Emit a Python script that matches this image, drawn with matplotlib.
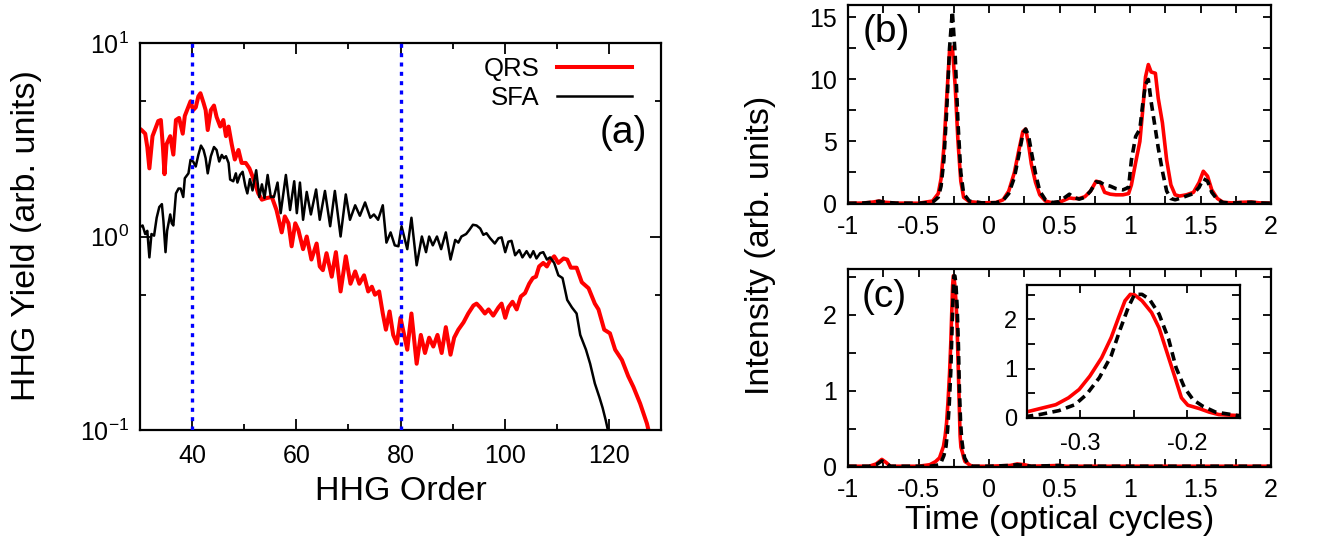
import matplotlib
matplotlib.use("Agg")
import matplotlib.pyplot as plt
from matplotlib.ticker import MultipleLocator, FixedLocator, NullFormatter, FuncFormatter

plt.rcParams['font.family'] = ['Liberation Sans', 'DejaVu Sans']
plt.rcParams['mathtext.fontset'] = 'custom'
plt.rcParams['mathtext.rm'] = 'Liberation Sans'
plt.rcParams['mathtext.default'] = 'regular'
plt.rcParams['axes.unicode_minus'] = False

# ---- panel (a): HHG spectra (order, yield) ----
qrs_order = [30.0, 30.3, 31.0, 31.4, 31.8, 32.4, 33.1, 33.5, 34.0, 34.4, 34.7, 35.1, 35.8, 36.4,
             36.9, 37.5, 38.2, 38.6, 39.3, 39.7, 40.2, 40.7, 41.2, 41.6, 42.2, 42.6, 43.0, 43.6,
             44.2, 44.7, 45.4, 46.0, 46.5, 47.0, 47.6, 48.2, 48.9, 49.5, 50.3, 51.0, 51.8, 52.7,
             53.4, 54.3, 55.3, 56.2, 57.2, 57.8, 58.5, 59.1, 59.8, 60.4, 61.3, 62.0, 62.9, 63.9,
             64.5, 65.1, 65.8, 66.8, 67.6, 68.5, 69.5, 70.4, 71.3, 72.1, 73.0, 73.8, 74.5, 75.1,
             75.9, 76.6, 77.2, 77.9, 78.6, 79.3, 80.0, 80.7, 81.3, 82.1, 83.1, 83.9, 84.7, 85.5,
             86.3, 87.1, 87.9, 88.7, 89.6, 90.3, 91.1, 92.1, 93.0, 94.0, 94.6, 95.3, 96.2, 96.9,
             97.8, 98.8, 99.4, 100.1, 100.7, 101.5, 102.3, 103.1, 103.9, 104.7, 105.4, 106.0,
             106.6, 107.4, 108.1, 108.7, 109.5, 110.3, 111.3, 112.0, 112.7, 113.8, 114.8, 116.1,
             117.3, 118.0, 119.1, 120.2, 121.2, 122.5, 123.7, 124.7, 126.0, 127.3, 128.0]
qrs_yield = [3.6, 3.55, 3.4, 2.9, 2.25, 3.3, 3.7, 3.95, 4.0, 2.9, 2.1, 3.0, 3.3, 2.65,
             4.0, 4.1, 3.4, 4.2, 4.7, 5.0, 4.5, 4.65, 5.3, 5.5, 4.9, 4.5, 3.55, 4.5,
             4.75, 4.15, 3.7, 4.0, 3.3, 3.7, 3.0, 2.5, 2.8, 2.4, 2.4, 2.25, 1.98, 1.67,
             1.55, 1.58, 1.6, 1.37, 1.05, 1.27, 1.17, 0.89, 1.17, 1.08, 0.86, 1.0, 0.76, 0.92,
             0.70, 0.67, 0.82, 0.62, 0.83, 0.52, 0.79, 0.57, 0.66, 0.57, 0.63, 0.52, 0.55, 0.50,
             0.52, 0.40, 0.33, 0.41, 0.31, 0.28, 0.38, 0.31, 0.26, 0.40, 0.22, 0.31, 0.25, 0.30,
             0.27, 0.31, 0.25, 0.34, 0.245, 0.30, 0.33, 0.36, 0.40, 0.44, 0.45, 0.43, 0.40, 0.42,
             0.39, 0.43, 0.45, 0.38, 0.43, 0.46, 0.42, 0.49, 0.51, 0.57, 0.61, 0.62,
             0.70, 0.73, 0.70, 0.75, 0.79, 0.73, 0.77, 0.76, 0.69, 0.69, 0.58, 0.54,
             0.45, 0.42, 0.33, 0.316, 0.26, 0.23, 0.19, 0.167, 0.137, 0.108, 0.09]

sfa_order = [30.0, 30.5, 31.0, 31.4, 31.8, 32.2, 32.7, 33.2, 33.7, 34.2, 34.5, 34.9, 35.2, 35.8,
             36.1, 36.4, 36.9, 37.4, 37.8, 38.3, 38.6, 39.3, 39.7, 40.2, 40.7, 41.2, 41.7, 42.2,
             42.6, 43.0, 43.6, 44.2, 44.7, 45.2, 45.7, 46.1, 46.5, 47.0, 47.3, 47.9, 48.4, 48.7,
             49.2, 49.7, 50.2, 50.6, 51.1, 51.6, 52.3, 52.9, 53.4, 53.9, 54.5, 55.1, 55.7, 56.4,
             57.0, 58.0, 58.8, 59.6, 60.1, 60.7, 61.3, 62.0, 62.8, 63.8, 64.5, 65.5, 66.5, 67.4,
             68.5, 69.5, 70.3, 71.3, 72.2, 73.2, 74.2, 74.9, 75.7, 76.6, 77.3, 78.1, 78.9, 79.6,
             80.2, 80.7, 81.3, 82.1, 83.1, 84.1, 84.9, 85.5, 86.2, 87.0, 87.8, 88.7, 89.6, 90.5,
             91.1, 91.7, 92.6, 93.2, 93.9, 94.6, 95.3, 95.9, 96.5, 97.2, 98.1, 98.8, 99.4, 100.1,
             100.7, 101.3, 102.0, 102.8, 103.4, 104.2, 104.9, 105.5, 106.1, 106.8, 107.4, 108.1,
             108.7, 109.5, 110.3, 111.1, 112.0, 112.9, 113.8, 114.5, 115.6, 116.4, 117.3, 118.2,
             118.8, 119.4, 119.8, 120.2]
sfa_yield = [1.12, 1.14, 1.03, 1.07, 0.78, 1.03, 1.01, 1.25, 1.42, 1.47, 1.2, 0.83, 1.07, 1.3,
             1.17, 1.14, 1.67, 1.77, 1.77, 1.6, 2.0, 2.12, 2.49, 2.44, 2.3, 2.64, 2.95, 2.8,
             2.54, 2.12, 2.6, 2.9, 2.8, 2.44, 2.64, 2.54, 2.6, 2.4, 1.97, 1.93, 2.12, 1.9,
             2.08, 2.16, 1.83, 1.67, 1.98, 1.73, 2.2, 1.6, 1.86, 1.58, 2.08, 1.6, 1.6, 1.9,
             1.32, 2.08, 1.37, 1.93, 1.32, 1.9, 1.22, 1.7, 1.3, 1.75, 1.22, 1.72, 1.13, 1.72,
             1.0, 1.65, 1.22, 1.45, 1.28, 1.5, 1.25, 1.3, 1.22, 1.45, 0.93, 1.05, 0.90, 0.89,
             1.13, 1.0, 0.86, 1.25, 0.71, 1.0, 0.83, 1.0, 0.90, 1.0, 0.86, 1.05, 0.76, 0.96,
             0.93, 1.0, 1.03, 1.08, 1.15, 1.14, 1.10, 1.02, 1.04, 0.98, 0.92, 0.98, 0.99, 0.83,
             0.94, 0.95, 0.80, 0.85, 0.78, 0.84, 0.78, 0.84, 0.77, 0.82, 0.83, 0.76,
             0.78, 0.73, 0.63, 0.61, 0.47, 0.43, 0.40, 0.31, 0.26, 0.22, 0.174, 0.147,
             0.13, 0.112, 0.10, 0.09]

marker_orders = [40, 80]

# ---- panel (b): time profile over two optical cycles ----
t_b = [-1.00, -0.90, -0.82, -0.78, -0.74, -0.66, -0.50, -0.40, -0.36, -0.34, -0.32, -0.30,
       -0.28, -0.26, -0.24, -0.22, -0.20, -0.18, -0.14, -0.05, 0.05, 0.10, 0.14, 0.18, 0.21,
       0.24, 0.26, 0.28, 0.30, 0.33, 0.36, 0.40, 0.45, 0.50, 0.54, 0.57, 0.60, 0.64, 0.68,
       0.72, 0.76, 0.79, 0.82, 0.86, 0.90, 0.95, 0.99, 1.01, 1.04, 1.07, 1.09, 1.11, 1.13,
       1.15, 1.18, 1.20, 1.23, 1.26, 1.29, 1.32, 1.35, 1.40, 1.45, 1.49, 1.52, 1.55, 1.58,
       1.62, 1.66, 1.72, 1.80, 1.86, 1.92, 2.00]
qrs_b = [0.02, 0.03, 0.12, 0.2, 0.1, 0.03, 0.02, 0.2, 0.8, 2.0, 4.5, 8.5,
         12.3, 12.6, 9.5, 5.0, 1.8, 0.5, 0.15, 0.05, 0.08, 0.3, 1.0, 2.5, 4.2,
         5.8, 6.0, 4.8, 3.2, 1.7, 0.7, 0.2, 0.05, 0.1, 0.3, 0.45, 0.4, 0.4, 0.55,
         1.0, 1.8, 1.7, 0.9, 0.75, 0.7, 0.7, 0.8, 1.5, 3.3, 5.0, 7.5, 10.2, 11.2,
         10.6, 10.5, 8.5, 6.5, 3.5, 1.5, 0.7, 0.6, 0.7, 0.9, 1.7, 2.6, 2.2, 1.1,
         0.4, 0.1, 0.05, 0.1, 0.12, 0.05, 0.03]
sfa_b = [0.02, 0.03, 0.1, 0.18, 0.1, 0.03, 0.02, 0.1, 0.5, 1.4, 3.5, 7.5,
         12.5, 15.5, 12.0, 6.5, 2.5, 0.8, 0.2, 0.05, 0.06, 0.25, 0.8, 2.1, 3.8,
         5.6, 6.0, 5.5, 4.2, 2.4, 1.0, 0.3, 0.08, 0.15, 0.5, 0.75, 0.5, 0.35, 0.5,
         1.0, 1.75, 1.7, 1.5, 1.4, 1.2, 1.1, 1.3, 3.5, 5.4, 6.0, 8.0, 9.6, 10.0,
         8.2, 6.0, 4.5, 2.6, 1.0, 0.4, 0.3, 0.4, 0.6, 0.8, 1.3, 2.0, 1.8, 0.9,
         0.3, 0.08, 0.03, 0.08, 0.1, 0.04, 0.02]

# ---- panel (c) and its inset: same data, isolated attosecond pulse ----
t_c_qrs = [-1.00, -0.85, -0.80, -0.76, -0.73, -0.70, -0.60, -0.50, -0.42, -0.38,
           -0.351, -0.338, -0.323, -0.311, -0.301, -0.291, -0.280, -0.271, -0.264, -0.258,
           -0.253, -0.249, -0.242, -0.233, -0.226, -0.219, -0.211, -0.205, -0.199, -0.188,
           -0.179, -0.170, -0.152, -0.14, -0.12, 0.00, 0.15, 0.20, 0.25, 0.30, 0.50, 0.55,
           0.80, 2.00]
qrs_c = [0.01, 0.01, 0.04, 0.10, 0.06, 0.01, 0.01, 0.01, 0.03, 0.07,
         0.12, 0.19, 0.27, 0.41, 0.58, 0.85, 1.22, 1.63, 2.04, 2.38,
         2.51, 2.50, 2.38, 2.14, 1.83, 1.36, 0.82, 0.41, 0.26, 0.19,
         0.12, 0.07, 0.05, 0.03, 0.01, 0.01, 0.02, 0.04, 0.03, 0.01, 0.02, 0.01,
         0.01, 0.01]
t_c_sfa = [-1.00, -0.85, -0.80, -0.76, -0.73, -0.70, -0.60, -0.50, -0.42, -0.38,
           -0.351, -0.338, -0.320, -0.305, -0.294, -0.282, -0.271, -0.263, -0.255, -0.249,
           -0.242, -0.235, -0.226, -0.217, -0.210, -0.202, -0.194, -0.185, -0.173, -0.152,
           -0.14, -0.12, 0.00, 0.15, 0.20, 0.25, 0.30, 0.50, 0.55, 0.80, 2.00]
sfa_c = [0.01, 0.01, 0.03, 0.08, 0.05, 0.01, 0.01, 0.01, 0.01, 0.02,
         0.03, 0.07, 0.15, 0.27, 0.48, 0.82, 1.26, 1.77, 2.24, 2.51,
         2.51, 2.41, 2.11, 1.60, 1.02, 0.61, 0.37, 0.24, 0.12, 0.05,
         0.03, 0.01, 0.01, 0.02, 0.03, 0.02, 0.01, 0.02, 0.01, 0.01, 0.01]

W, H = 1342, 550
TICK_FS = 18
LABEL_FS = 24.5
TAG_FS = 28
LEGEND_FS = 18.5
RED = '#ff0000'


def plain(v, pos):
    return '%g' % (round(v, 6) + 0.0)


def box(ax, lw=1.6):
    for s in ax.spines.values():
        s.set_linewidth(lw)
    ax.tick_params(which='both', direction='in', top=True, right=True, width=1.3)


def rect(x0, x1, y0, y1):
    return [x0 / W, 1 - y1 / H, (x1 - x0) / W, (y1 - y0) / H]


fig = plt.figure(figsize=(W / 100, H / 100), dpi=100)

# (a)
ax_a = fig.add_axes(rect(140, 661, 43, 430))
ax_a.plot(qrs_order, qrs_yield, color=RED, lw=2.9, label='QRS')
ax_a.plot(sfa_order, sfa_yield, color='black', lw=1.8, label='SFA')
for xo in marker_orders:
    ax_a.axvline(xo, color='#0000ff', lw=2.4, ls=(0, (1.2, 1.6)), zorder=5)
ax_a.set_yscale('log')
ax_a.set_xlim(30, 130)
ax_a.set_ylim(0.1, 10)
ax_a.set_yticks([0.1, 1, 10], labels=[r'$10^{-1}$', r'$10^{0}$', r'$10^{1}$'])
ax_a.yaxis.set_minor_locator(FixedLocator([0.5, 5]))
ax_a.yaxis.set_minor_formatter(NullFormatter())
ax_a.xaxis.set_major_locator(FixedLocator([40, 60, 80, 100, 120]))
ax_a.xaxis.set_minor_locator(MultipleLocator(10))
box(ax_a)
ax_a.tick_params(which='major', length=8, labelsize=TICK_FS)
ax_a.tick_params(axis='x', pad=10)
ax_a.tick_params(axis='y', pad=8)
ax_a.tick_params(which='minor', length=4)
ax_a.set_xlabel('HHG Order', fontsize=LABEL_FS, labelpad=6)
ax_a.legend(loc='upper right', bbox_to_anchor=(0.944, 0.965), markerfirst=False,
            frameon=False, fontsize=LEGEND_FS, handlelength=2.9, borderpad=0, borderaxespad=0,
            labelspacing=0.22, handletextpad=0.7)
ax_a.text(0.927, 0.767, '(a)', transform=ax_a.transAxes, fontsize=TAG_FS,
          ha='center', va='center')
fig.text(27 / W, 1 - 236 / H, 'HHG Yield (arb. units)', rotation=90, fontsize=LABEL_FS,
         ha='center', va='center')

# (b)
ax_b = fig.add_axes(rect(848, 1271, 5, 203.5))
ax_b.plot(t_b, qrs_b, color=RED, lw=2.6)
ax_b.plot(t_b, sfa_b, color='black', lw=2.6, ls=(0, (2.4, 1.5)))
ax_b.set_xlim(-1, 2)
ax_b.set_ylim(0, 16)
ax_b.xaxis.set_major_locator(MultipleLocator(0.5))
ax_b.xaxis.set_minor_locator(MultipleLocator(0.25))
ax_b.yaxis.set_major_locator(MultipleLocator(5))
ax_b.yaxis.set_minor_locator(MultipleLocator(2.5))
ax_b.xaxis.set_major_formatter(FuncFormatter(plain))
ax_b.yaxis.set_major_formatter(FuncFormatter(plain))
box(ax_b)
ax_b.tick_params(which='both', length=6, labelsize=TICK_FS, pad=8)
ax_b.text(0.09, 0.864, '(b)', transform=ax_b.transAxes, fontsize=TAG_FS,
          ha='center', va='center')

# (c)
ax_c = fig.add_axes(rect(848, 1271, 269, 467))
ax_c.plot(t_c_qrs, qrs_c, color=RED, lw=2.6)
ax_c.plot(t_c_sfa, sfa_c, color='black', lw=2.6, ls=(0, (2.4, 1.5)))
ax_c.set_xlim(-1, 2)
ax_c.set_ylim(0, 2.6)
ax_c.xaxis.set_major_locator(MultipleLocator(0.5))
ax_c.xaxis.set_minor_locator(MultipleLocator(0.25))
ax_c.yaxis.set_major_locator(MultipleLocator(1))
ax_c.yaxis.set_minor_locator(MultipleLocator(0.5))
ax_c.xaxis.set_major_formatter(FuncFormatter(plain))
ax_c.yaxis.set_major_formatter(FuncFormatter(plain))
box(ax_c)
ax_c.tick_params(which='both', length=6, labelsize=TICK_FS, pad=8)
ax_c.set_xlabel('Time (optical cycles)', fontsize=LABEL_FS, labelpad=2)
ax_c.text(0.085, 0.859, '(c)', transform=ax_c.transAxes, fontsize=TAG_FS,
          ha='center', va='center')

# inset of (c)
ax_i = fig.add_axes(rect(1027, 1240, 285, 418))
ax_i.plot(t_c_qrs, qrs_c, color=RED, lw=2.6)
ax_i.plot(t_c_sfa, sfa_c, color='black', lw=2.6, ls=(0, (2.4, 1.5)))
ax_i.set_xlim(-0.35, -0.15)
ax_i.set_ylim(0, 2.7)
ax_i.xaxis.set_major_locator(FixedLocator([-0.3, -0.2]))
ax_i.xaxis.set_minor_locator(FixedLocator([-0.35, -0.25, -0.15]))
ax_i.yaxis.set_major_locator(MultipleLocator(1))
ax_i.yaxis.set_minor_locator(MultipleLocator(0.5))
ax_i.xaxis.set_major_formatter(FuncFormatter(plain))
ax_i.yaxis.set_major_formatter(FuncFormatter(plain))
box(ax_i)
ax_i.tick_params(which='both', length=6, labelsize=TICK_FS - 1)
ax_i.tick_params(axis='x', pad=11)
ax_i.tick_params(axis='y', pad=7)

fig.text(760 / W, 1 - 245 / H, 'Intensity (arb. units)', rotation=90, fontsize=LABEL_FS,
         ha='center', va='center')

fig.savefig('out.png', dpi=100)
